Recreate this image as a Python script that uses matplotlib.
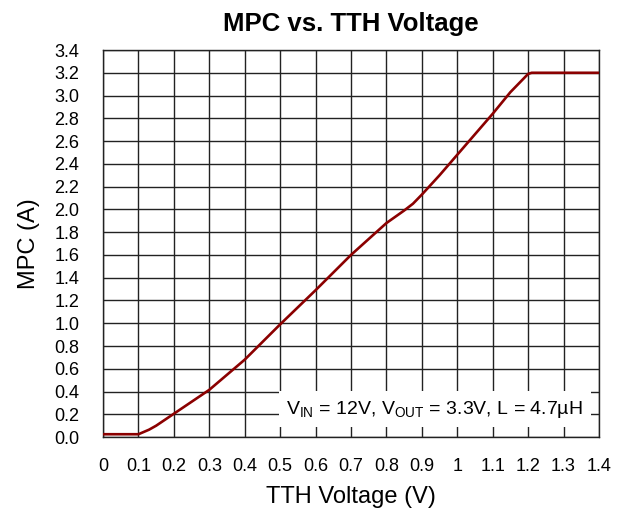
import matplotlib
matplotlib.use("Agg")
import matplotlib.pyplot as plt

plt.rcParams['font.family'] = ['Liberation Sans', 'DejaVu Sans']
plt.rcParams['mathtext.fontset'] = 'custom'
plt.rcParams['mathtext.rm'] = 'Liberation Sans'
plt.rcParams['mathtext.it'] = 'Liberation Sans'

# MPC (A) vs TTH voltage (V)
tth = [0.0, 0.10, 0.13, 0.15, 0.20, 0.30, 0.40, 0.50, 0.60, 0.70, 0.80,
       0.85, 0.875, 0.90, 0.95, 1.00, 1.05, 1.10, 1.15, 1.20, 1.21, 1.40]
mpc = [0.025, 0.025, 0.065, 0.10, 0.205, 0.415, 0.68, 0.99, 1.29, 1.60, 1.88,
       1.99, 2.05, 2.13, 2.30, 2.48, 2.66, 2.84, 3.03, 3.19, 3.20, 3.20]

xticks = [0, 0.1, 0.2, 0.3, 0.4, 0.5, 0.6, 0.7, 0.8, 0.9, 1, 1.1, 1.2, 1.3, 1.4]
xlabels = ['0', '0.1', '0.2', '0.3', '0.4', '0.5', '0.6', '0.7', '0.8', '0.9',
           '1', '1.1', '1.2', '1.3', '1.4']
yticks = [i * 0.2 for i in range(18)]
ylabels = ['%.1f' % v for v in yticks]

fig = plt.figure(figsize=(6.27, 5.13), dpi=100)
ax = fig.add_axes([0.1643, 0.148, 0.791, 0.7545])

ax.plot(tth, mpc, color='#8b0000', lw=1.9, zorder=3)

ax.set_xlim(0, 1.4)
ax.set_ylim(0, 3.4)
ax.set_xticks(xticks)
ax.set_xticklabels(xlabels)
ax.set_yticks(yticks)
ax.set_yticklabels(ylabels)
ax.tick_params(length=0, labelsize=13)
ax.tick_params(axis='x', pad=15)
ax.tick_params(axis='y', pad=17)
ax.grid(True, color='#222222', lw=1.0)
for s in ax.spines.values():
    s.set_color('#222222')
    s.set_linewidth(1.0)

ax.set_title('MPC vs. TTH Voltage', fontsize=18.5, fontweight='bold', pad=14)
ax.set_xlabel('TTH Voltage (V)', fontsize=17, labelpad=8)
ax.set_ylabel('MPC (A)', fontsize=17, labelpad=10)

ax.text(1.355, 0.245,
        r'V$_{\mathrm{IN}}$ = 12V, V$_{\mathrm{OUT}}$ = 3.3V, L = 4.7µH',
        fontsize=14, ha='right', va='center', zorder=4,
        bbox=dict(boxstyle='square,pad=0.4', fc='white', ec='none'))

fig.savefig('out.png', dpi=100)
